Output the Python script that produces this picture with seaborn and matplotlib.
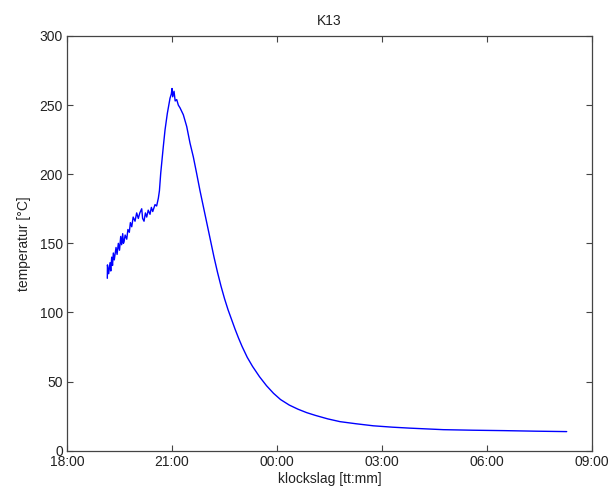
import matplotlib
matplotlib.use("Agg")
import matplotlib.pyplot as plt
import seaborn as sns
import pandas as pd

# hours after 18:00
hours = [1.151, 1.155, 1.19, 1.229, 1.25, 1.277, 1.30, 1.323, 1.35, 1.40, 1.43, 1.466,
         1.50, 1.534, 1.56, 1.591, 1.61, 1.629, 1.66, 1.706, 1.74, 1.78, 1.81, 1.849,
         1.89, 1.943, 1.99, 2.037, 2.08, 2.134, 2.16, 2.2, 2.24, 2.277, 2.32, 2.371,
         2.41, 2.449, 2.514, 2.56, 2.609, 2.64, 2.677, 2.751, 2.8, 2.866, 2.943, 2.98,
         3.0, 3.02, 3.057, 3.09, 3.134, 3.18, 3.229, 3.323, 3.42, 3.514, 3.609, 3.7,
         3.8, 3.9, 4.0, 4.1, 4.2, 4.3, 4.4, 4.5, 4.6, 4.7, 4.8, 4.9, 5.0, 5.15, 5.3,
         5.5, 5.7, 5.9, 6.1, 6.35, 6.6, 6.85, 7.1, 7.45, 7.8, 8.25, 8.75, 9.3, 9.8,
         10.75, 11.6, 12.5, 13.4, 14.277]
temperature = [124.7, 134.4, 128, 136, 130, 140, 134, 143, 138, 147, 142, 150,
               145, 155, 149, 157, 150, 151, 156, 153, 160, 158, 165, 162,
               169, 166, 172, 168, 172, 175, 168, 166, 172, 169, 174, 171,
               176, 173, 178, 177, 182.6, 188, 200.7, 220, 232, 244, 255, 258,
               262, 256, 260, 253, 254, 250, 248, 243, 234.5, 222.5, 212.5, 201,
               188, 176, 164, 152, 140, 129, 119, 110, 102, 95, 88, 81.5, 75.5, 67.5, 61,
               53.5, 47, 41.5, 37, 33, 30, 27.5, 25.5, 23, 21, 19.5, 18, 17, 16.3,
               15.2, 14.8, 14.5, 14.1, 13.8]

x_ticks = [0, 3, 6, 9, 12, 15]
x_ticklabels = ["18:00", "21:00", "00:00", "03:00", "06:00", "09:00"]
y_ticks = [0, 50, 100, 150, 200, 250, 300]

sns.set_style("white")
plt.rcParams["font.family"] = ["Liberation Sans", "DejaVu Sans"]
plt.rcParams["xtick.direction"] = "in"
plt.rcParams["ytick.direction"] = "in"

df = pd.DataFrame({"t": hours, "temp": temperature})

fig = plt.figure(figsize=(6.11, 4.97), dpi=100)
ax = fig.add_axes([0.1097, 0.0932, 0.8592, 0.8344])
sns.lineplot(data=df, x="t", y="temp", ax=ax, color="#0000ff", linewidth=1.0,
             estimator=None, sort=False)

ax.set_xlim(0, 15)
ax.set_ylim(0, 300)
ax.set_xticks(x_ticks)
ax.set_xticklabels(x_ticklabels)
ax.set_yticks(y_ticks)
ax.tick_params(axis="both", which="both", direction="in", length=4, width=0.8,
               top=True, right=True, bottom=True, left=True,
               labelsize=10, colors="#444444", labelcolor="#222222", pad=3)
for s in ax.spines.values():
    s.set_visible(True)
    s.set_color("#444444")
    s.set_linewidth(0.9)

ax.set_xlabel("klockslag [tt:mm]", fontsize=10, color="#222222", labelpad=2)
ax.set_ylabel("temperatur [°C]", fontsize=10, color="#222222", labelpad=6)
ax.set_title("K13", fontsize=10, color="#222222", pad=8)

fig.savefig("out.png", dpi=100, facecolor="white")
